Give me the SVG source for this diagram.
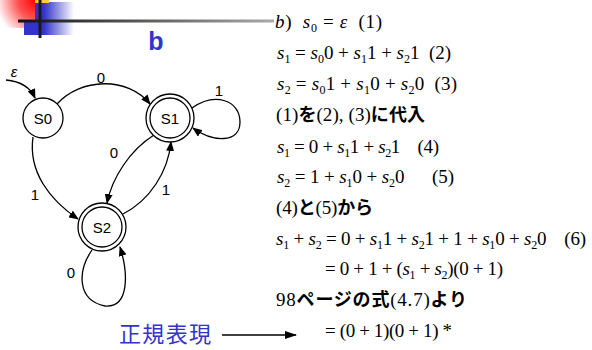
<svg xmlns="http://www.w3.org/2000/svg" width="592" height="350" viewBox="0 0 592 350">
<defs>
<radialGradient id="red" cx="36" cy="0" r="40" gradientUnits="userSpaceOnUse">
<stop offset="0" stop-color="#ff0000"/><stop offset="0.45" stop-color="#ff5050"/><stop offset="1" stop-color="#ffffff"/>
</radialGradient>
<linearGradient id="blue" x1="24" y1="0" x2="74" y2="0" gradientUnits="userSpaceOnUse">
<stop offset="0" stop-color="#3333cc"/><stop offset="0.4" stop-color="#3333cc"/><stop offset="1" stop-color="#ffffff"/>
</linearGradient>
<linearGradient id="hline" x1="18" y1="0" x2="274" y2="0" gradientUnits="userSpaceOnUse">
<stop offset="0" stop-color="#111111"/><stop offset="1" stop-color="#aaaaaa"/>
</linearGradient>
<marker id="arr" markerWidth="10" markerHeight="8" refX="9" refY="4" orient="auto" markerUnits="userSpaceOnUse">
<path d="M0,0 L10,4 L0,8 z" fill="#000"/>
</marker>
<marker id="arr2" markerWidth="12" markerHeight="8" refX="11" refY="4" orient="auto" markerUnits="userSpaceOnUse">
<path d="M0,0 L12,4 L0,8 z" fill="#000"/>
</marker>
</defs>
<style>
.st{fill:#fff;stroke:#000;stroke-width:1.3}
.lb{font-family:"Liberation Sans",Arial,sans-serif;font-size:15px;fill:#000;text-anchor:middle}
.ed{fill:none;stroke:#000;stroke-width:1.3}
.m{font-family:"Liberation Serif","Times New Roman",serif;font-size:19px;fill:#000;white-space:pre}
.m text{white-space:pre}
.i{font-style:italic}
.sb{font-size:12px}
.j{font-family:"Noto Sans CJK JP","Noto Sans CJK SC",sans-serif;font-weight:bold;font-size:18px}
.blue{fill:#3333cc}
</style>
<g id="decor">
<rect x="0" y="0" width="36" height="28" fill="url(#red)"/>
<rect x="35" y="2" width="39" height="33" fill="url(#blue)"/>
<rect x="24" y="21" width="12" height="14" fill="#3333cc"/>
<rect x="35" y="0" width="14" height="3" fill="#ffcc33"/>
<rect x="18" y="19.5" width="256" height="3" fill="url(#hline)"/>
<rect x="38.5" y="0" width="3" height="38" fill="#1a1a1a"/>
<text x="156" y="50" font-family="Liberation Sans,Arial,sans-serif" font-weight="bold" font-size="25" class="blue" text-anchor="middle">b</text>
</g>
<g id="connectors">
<path class="ed" d="M6,80 Q28,82 35,98" marker-end="url(#arr)"/>
<path class="ed" d="M57,104 C80,78 128,76 150,104" marker-end="url(#arr)"/>
<path class="ed" d="M33,137 C28,172 50,200 78,219" marker-end="url(#arr)"/>
<path class="ed" d="M154,135 C130,150 112,178 107,203" marker-end="url(#arr)"/>
<path class="ed" d="M123,214 C150,200 168,172 171,142" marker-end="url(#arr)"/>
<path class="ed" d="M192,108 C215,92 240,100 240,122 C240,144 212,142 193,128" marker-end="url(#arr)"/>
<path class="ed" d="M92,250 C78,270 76,300 105,306 C130,308 128,272 120,247" marker-end="url(#arr)"/>
<text class="lb" x="14" y="77" font-style="italic">ε</text>
<text class="lb" x="101" y="83">0</text>
<text class="lb" x="219" y="96">1</text>
<text class="lb" x="114" y="158">0</text>
<text class="lb" x="166" y="195">1</text>
<text class="lb" x="35" y="200">1</text>
<text class="lb" x="71" y="278">0</text>
<path d="M222,335 L296,335" stroke="#000" stroke-width="1.6" marker-end="url(#arr2)"/>
</g>
<g id="S0">
<circle class="st" cx="43" cy="118" r="20"/>
<text class="lb" x="43" y="123.5">S0</text>
</g>
<g id="S1">
<circle class="st" cx="170" cy="118" r="24"/>
<circle class="st" cx="170" cy="118" r="20"/>
<text class="lb" x="170" y="123.5">S1</text>
</g>
<g id="S2">
<circle class="st" cx="102" cy="227" r="24"/>
<circle class="st" cx="102" cy="227" r="20"/>
<text class="lb" x="102" y="232.5">S2</text>
</g>
<g id="label">
<text x="119" y="342" font-family="Noto Sans CJK JP,Noto Sans CJK SC,sans-serif" font-size="22" class="blue" textLength="92">正規表現</text>
</g>
<g id="math" class="m">
<text x="275" y="28" textLength="107"><tspan class="i">b</tspan>)  <tspan class="i">s</tspan><tspan class="sb" dy="4">0</tspan><tspan dy="-4"> = </tspan><tspan class="i">ε</tspan>  (1)</text>
<text x="277" y="59" textLength="174"><tspan class="i">s</tspan><tspan class="sb" dy="4">1</tspan><tspan dy="-4"> = </tspan><tspan class="i">s</tspan><tspan class="sb" dy="4">0</tspan><tspan dy="-4">0 + </tspan><tspan class="i">s</tspan><tspan class="sb" dy="4">1</tspan><tspan dy="-4">1 + </tspan><tspan class="i">s</tspan><tspan class="sb" dy="4">2</tspan><tspan dy="-4">1  (2)</tspan></text>
<text x="277" y="90" textLength="180"><tspan class="i">s</tspan><tspan class="sb" dy="4">2</tspan><tspan dy="-4"> = </tspan><tspan class="i">s</tspan><tspan class="sb" dy="4">0</tspan><tspan dy="-4">1 + </tspan><tspan class="i">s</tspan><tspan class="sb" dy="4">1</tspan><tspan dy="-4">0 + </tspan><tspan class="i">s</tspan><tspan class="sb" dy="4">2</tspan><tspan dy="-4">0  (3)</tspan></text>
<text x="276" y="121" textLength="149">(1)<tspan class="j">を</tspan>(2), (3)<tspan class="j">に代入</tspan></text>
<text x="277" y="153" textLength="162"><tspan class="i">s</tspan><tspan class="sb" dy="4">1</tspan><tspan dy="-4"> = 0 + </tspan><tspan class="i">s</tspan><tspan class="sb" dy="4">1</tspan><tspan dy="-4">1 + </tspan><tspan class="i">s</tspan><tspan class="sb" dy="4">2</tspan><tspan dy="-4">1    (4)</tspan></text>
<text x="277" y="183" textLength="177"><tspan class="i">s</tspan><tspan class="sb" dy="4">2</tspan><tspan dy="-4"> = 1 + </tspan><tspan class="i">s</tspan><tspan class="sb" dy="4">1</tspan><tspan dy="-4">0 + </tspan><tspan class="i">s</tspan><tspan class="sb" dy="4">2</tspan><tspan dy="-4">0      (5)</tspan></text>
<text x="276" y="214" textLength="97">(4)<tspan class="j">と</tspan>(5)<tspan class="j">から</tspan></text>
<text x="276" y="245" textLength="310"><tspan class="i">s</tspan><tspan class="sb" dy="4">1</tspan><tspan dy="-4"> + </tspan><tspan class="i">s</tspan><tspan class="sb" dy="4">2</tspan><tspan dy="-4"> = 0 + </tspan><tspan class="i">s</tspan><tspan class="sb" dy="4">1</tspan><tspan dy="-4">1 + </tspan><tspan class="i">s</tspan><tspan class="sb" dy="4">2</tspan><tspan dy="-4">1 + 1 + </tspan><tspan class="i">s</tspan><tspan class="sb" dy="4">1</tspan><tspan dy="-4">0 + </tspan><tspan class="i">s</tspan><tspan class="sb" dy="4">2</tspan><tspan dy="-4">0    (6)</tspan></text>
<text x="325" y="275" textLength="178">= 0 + 1 + (<tspan class="i">s</tspan><tspan class="sb" dy="4">1</tspan><tspan dy="-4"> + </tspan><tspan class="i">s</tspan><tspan class="sb" dy="4">2</tspan><tspan dy="-4">)(0 + 1)</tspan></text>
<text x="276" y="306" textLength="191">98<tspan class="j">ページの式</tspan>(4.7)<tspan class="j">より</tspan></text>
<text x="325" y="337" textLength="127">= (0 + 1)(0 + 1) *</text>
</g>
</svg>
